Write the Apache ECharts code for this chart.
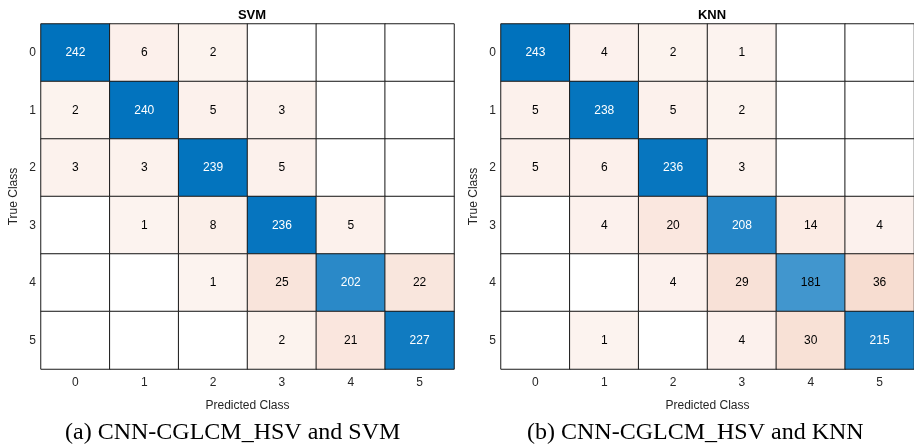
<!DOCTYPE html>
<html><head><meta charset="utf-8">
<script src="https://cdn.jsdelivr.net/npm/echarts@6/dist/echarts.min.js"></script>
<style>html,body{margin:0;padding:0;background:#fff}#c{width:914px;height:446px}</style>
</head><body><div id="c"></div>
<script>
const classLabels = ['0','1','2','3','4','5'];
const svmMatrix = [
  [242,6,2,0,0,0],
  [2,240,5,3,0,0],
  [3,3,239,5,0,0],
  [0,1,8,236,5,0],
  [0,0,1,25,202,22],
  [0,0,0,2,21,227]
];
const knnMatrix = [
  [243,4,2,1,0,0],
  [5,238,5,2,0,0],
  [5,6,236,3,0,0],
  [0,4,20,208,14,4],
  [0,0,4,29,181,36],
  [0,1,0,4,30,215]
];
const titles = ['SVM','KNN'];
const captions = ['(a) CNN-CGLCM_HSV and SVM','(b) CNN-CGLCM_HSV and KNN'];

function mix(c, t){
  return 'rgb(' + c.map(v => Math.round(255 - (255 - v) * t)).join(',') + ')';
}
function cellData(m){
  let max = 0;
  m.forEach(r => r.forEach(v => { if (v > max) max = v; }));
  const out = [];
  m.forEach((row, i) => row.forEach((v, j) => {
    let color = '#ffffff', txt = '#000000';
    if (v > 0) {
      if (i === j) {
        const t = v / max;
        color = mix([0,114,189], t);
        txt = t > 0.8 ? '#ffffff' : '#000000';
      } else {
        const t = 0.065 + 0.9 * v / max;
        color = mix([217,83,25], t);
      }
    }
    out.push({value: [j, i, v], itemStyle: {color: color},
      label: {show: v > 0, color: txt}});
  }));
  return out;
}
const lefts = [41, 501];
const font = 'Liberation Sans, Arial, Helvetica, sans-serif';
const grids = [], xAxes = [], yAxes = [], series = [], tits = [];
[svmMatrix, knnMatrix].forEach((m, k) => {
  grids.push({left: lefts[k], top: 24, width: 413, height: 345});
  xAxes.push({type:'category', gridIndex:k, data: classLabels, name:'Predicted Class',
    nameLocation:'middle', nameGap:31, nameTextStyle:{fontFamily:font, fontSize:12, color:'#262626'},
    axisLine:{show:false}, axisTick:{show:false}, splitLine:{show:false},
    axisLabel:{fontFamily:font, fontSize:12, color:'#262626', margin:8}});
  yAxes.push({type:'category', gridIndex:k, data: classLabels, inverse:true, name:'True Class',
    nameLocation:'middle', nameGap:21, nameTextStyle:{fontFamily:font, fontSize:12, color:'#262626'},
    axisLine:{show:false}, axisTick:{show:false}, splitLine:{show:false},
    axisLabel:{fontFamily:font, fontSize:12, color:'#262626', margin:5}});
  series.push({type:'heatmap', xAxisIndex:k, yAxisIndex:k, data: cellData(m),
    itemStyle:{borderColor:'#1a1a1a', borderWidth:1},
    label:{show:true, fontFamily:font, fontSize:12, formatter: p => p.value[2] > 0 ? String(p.value[2]) : ''},
    emphasis:{disabled:true}});
  tits.push({text: titles[k], left: lefts[k] + 206, top: 4, textAlign:'center',
    textStyle:{fontFamily:font, fontSize:13, fontWeight:'bold', color:'#000'}});
});
const chart = echarts.init(document.getElementById('c'), null, {renderer:'canvas'});
chart.setOption({
  animation:false,
  title: tits,
  grid: grids, xAxis: xAxes, yAxis: yAxes, series: series,
  graphic: [
    {type:'text', left: 65, top: 421, style:{text: captions[0], font:'24px "Liberation Serif", serif', fill:'#000'}},
    {type:'text', left: 527, top: 421, style:{text: captions[1], font:'24px "Liberation Serif", serif', fill:'#000'}}
  ]
});
</script></body></html>
